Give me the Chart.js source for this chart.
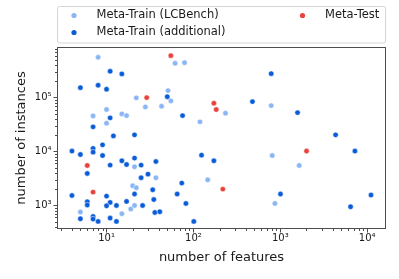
<!DOCTYPE html>
<html>
<head>
<meta charset="utf-8">
<script src="https://cdn.jsdelivr.net/npm/chart.js@4.4.1/dist/chart.umd.min.js"></script>
<style>
  html, body { margin: 0; padding: 0; background: #fff; }
  #canvas { display: block; }
</style>
</head>
<body>
<canvas id="canvas" width="399" height="279"></canvas>
<script>
// Meta-Train (LCBench)
let lcbenchFeatures  = [8, 61.5, 79, 51, 22, 28, 43, 55, 10, 7, 15, 17, 10, 119, 234, 786,
                        21, 37, 20, 22, 21, 5, 19, 15, 807, 1650, 146, 867];
let lcbenchInstances = [560000, 433000, 445000, 135000, 99000, 67300, 69300, 86900, 60000, 45800, 49900, 46400, 33600, 35500, 51400, 71100,
                        5210, 3260, 2320, 2130, 1000, 755, 857, 701, 8430, 5500, 2990, 1090];

// Meta-Train (additional)
let addFeatures  = [11, 15, 5, 8, 10, 50, 11, 75, 7, 12, 21, 786, 478, 1580, 4330,
                    4, 5, 7, 7, 9, 9, 11, 15, 17, 21, 25, 37, 6, 25, 30, 34, 73.5,
                    4, 10, 21, 65, 6, 6, 11, 17, 10, 13, 35, 82, 26, 36, 41,
                    5, 7, 7, 8, 11, 13, 101, 124, 172, 1005, 7230, 11070, 6440];
let addInstances = [308000, 275000, 153000, 170000, 143000, 104000, 42100, 46400, 28700, 19500, 20400, 278000, 84300, 52700, 20400,
                    10200, 8800, 11400, 9750, 13300, 8430, 5600, 6730, 5750, 7550, 5600, 6530, 3920, 3260, 3810, 1950, 2600,
                    1530, 1490, 1630, 1630, 1170, 1020, 1140, 1190, 986, 1000, 1290, 1090, 1000, 742, 764,
                    567, 626, 560, 506, 584, 506, 506, 8570, 6730, 1630, 10200, 1560, 946];

// Meta-Test
let testFeatures  = [55, 29, 172, 183, 6, 7, 2005, 218];
let testInstances = [600000, 100000, 78700, 60000, 5500, 1770, 10200, 2010];

let xTickValues = [10, 100, 1000, 10000];
let xTickLabels = ['10¹', '10²', '10³', '10⁴'];
let yTickValues = [1000, 10000, 100000];
let yTickLabels = ['10³', '10⁴', '10⁵'];

const FONT = 'DejaVu Sans';
const TEXT = '#1a1a1a';
const FRAME = '#4d4d4d';

function toPoints(xs, ys) {
  return xs.map((x, i) => ({x: x, y: ys[i]}));
}

// 1..9 x 10^n inside the range, decades are major
function logTicks(min, max) {
  let ticks = [];
  for (let e = Math.floor(Math.log10(min)); e <= Math.ceil(Math.log10(max)); e++) {
    for (let m = 1; m < 10; m++) {
      let v = m * Math.pow(10, e);
      if (v >= min && v <= max) ticks.push({value: v, major: m === 1});
    }
  }
  return ticks;
}

const frameAndTicks = {
  id: 'frameAndTicks',
  afterDraw(chart) {
    const ctx = chart.ctx;
    const a = chart.chartArea;
    ctx.save();
    ctx.strokeStyle = FRAME;
    ctx.lineWidth = 1;
    ctx.strokeRect(a.left + 0.5, a.top + 0.5, a.right - a.left - 1, a.bottom - a.top - 1);
    // minor ticks, shorter than the major ones
    ctx.beginPath();
    chart.scales.x.ticks.forEach(t => {
      if (t.major) return;
      let px = Math.round(chart.scales.x.getPixelForValue(t.value)) + 0.5;
      ctx.moveTo(px, a.bottom);
      ctx.lineTo(px, a.bottom + 2);
    });
    chart.scales.y.ticks.forEach(t => {
      if (t.major) return;
      let py = Math.round(chart.scales.y.getPixelForValue(t.value)) + 0.5;
      ctx.moveTo(a.left, py);
      ctx.lineTo(a.left - 2, py);
    });
    ctx.stroke();
    ctx.restore();
  }
};

const legendBox = {
  id: 'legendBox',
  afterDraw(chart) {
    const ctx = chart.ctx;
    const ds = chart.data.datasets;
    const slots = [{x: 74, y: 15.5}, {x: 74, y: 32.5}, {x: 302.5, y: 15.5}];
    ctx.save();
    ctx.beginPath();
    ctx.roundRect(57.5, 6.5, 328, 36.5, 2);
    ctx.fillStyle = 'rgba(255,255,255,0.9)';
    ctx.fill();
    ctx.strokeStyle = '#d6d6d6';
    ctx.lineWidth = 1;
    ctx.stroke();
    ctx.font = '11.5px "' + FONT + '"';
    ctx.textBaseline = 'middle';
    ctx.textAlign = 'left';
    ds.forEach((d, i) => {
      let s = slots[i];
      ctx.beginPath();
      ctx.arc(s.x, s.y, 2.6, 0, Math.PI * 2);
      ctx.fillStyle = d.backgroundColor;
      ctx.fill();
      ctx.fillStyle = TEXT;
      ctx.fillText(d.label, s.x + 22.5, s.y);
    });
    ctx.restore();
  }
};

window.onload = function(){
  var ctx = document.getElementById('canvas');
  new Chart(ctx, {
    type: 'scatter',
    data: {
      datasets: [{
        label: 'Meta-Train (LCBench)',
        data: toPoints(lcbenchFeatures, lcbenchInstances),
        backgroundColor: '#8ab6f4',
        order: 2
      }, {
        label: 'Meta-Train (additional)',
        data: toPoints(addFeatures, addInstances),
        backgroundColor: '#0a5cd8',
        order: 1
      }, {
        label: 'Meta-Test',
        data: toPoints(testFeatures, testInstances),
        backgroundColor: '#e8423a',
        order: 0
      }]
    },
    options: {
      responsive: false,
      animation: false,
      elements: {
        point: { radius: 2.7, borderWidth: 0.5, borderColor: '#ffffff', hoverRadius: 2.7 }
      },
      layout: { padding: { top: 47, right: 13, left: 0, bottom: 0 } },
      plugins: {
        legend: { display: false },
        tooltip: { enabled: false }
      },
      scales: {
        x: {
          type: 'logarithmic',
          min: 2.69,
          max: 16470,
          afterFit: s => { s.height = 50; },
          afterBuildTicks: s => { s.ticks = logTicks(s.min, s.max); },
          border: { display: false },
          grid: {
            drawOnChartArea: false,
            drawTicks: true,
            tickLength: 3.5,
            tickColor: c => (c.tick && c.tick.major) ? FRAME : 'rgba(0,0,0,0)'
          },
          ticks: {
            autoSkip: false,
            maxRotation: 0,
            padding: 0,
            color: TEXT,
            font: { family: FONT, size: 10 },
            callback: v => { let i = xTickValues.indexOf(v); return i >= 0 ? xTickLabels[i] : ''; }
          },
          title: {
            display: true,
            text: 'number of features',
            color: TEXT,
            font: { family: FONT, size: 13 },
            padding: { top: 0, bottom: 14 }
          }
        },
        y: {
          type: 'logarithmic',
          min: 366,
          max: 868000,
          afterFit: s => { s.width = 57; },
          afterBuildTicks: s => { s.ticks = logTicks(s.min, s.max); },
          border: { display: false },
          grid: {
            drawOnChartArea: false,
            drawTicks: true,
            tickLength: 3.5,
            tickColor: c => (c.tick && c.tick.major) ? FRAME : 'rgba(0,0,0,0)'
          },
          ticks: {
            autoSkip: false,
            padding: 2,
            color: TEXT,
            font: { family: FONT, size: 10 },
            callback: v => { let i = yTickValues.indexOf(v); return i >= 0 ? yTickLabels[i] : ''; }
          },
          title: {
            display: true,
            text: 'number of instances',
            color: TEXT,
            font: { family: FONT, size: 13 },
            padding: { top: 14, bottom: 0 }
          }
        }
      }
    },
    plugins: [frameAndTicks, legendBox]
  });
};
</script>
</body>
</html>
